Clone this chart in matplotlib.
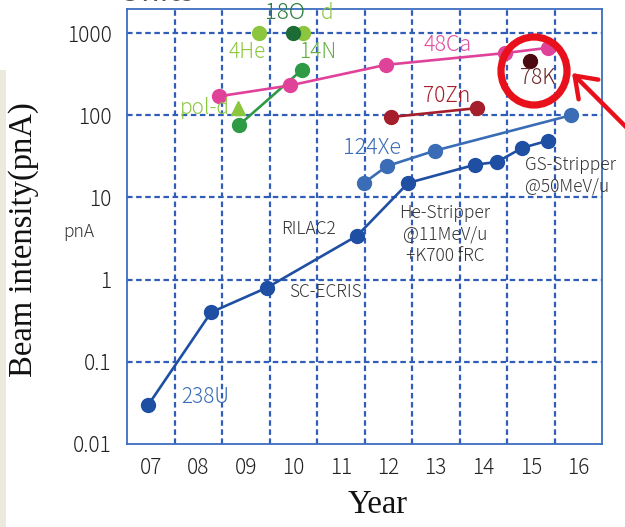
import matplotlib
matplotlib.use("Agg")
import matplotlib.pyplot as plt
from matplotlib.patches import Ellipse, Rectangle
from matplotlib.ticker import FixedLocator, NullLocator

# ---- data -------------------------------------------------------------
years = ["07", "08", "09", "10", "11", "12", "13", "14", "15", "16"]
year_pos = [7, 8, 9, 10, 11, 12, 13, 14, 15, 16]
y_ticks = [0.01, 0.1, 1, 10, 100, 1000]
y_tick_labels = ["0.01", "0.1", "1", "10", "100", "1000"]

u238_x = [6.95, 8.27, 9.45, 11.34, 12.42, 13.83, 14.29, 14.82, 15.36]
u238_y = [0.03, 0.4, 0.8, 3.4, 15, 25, 27, 40, 49]

xe124_x = [11.49, 11.97, 12.98, 15.85]
xe124_y = [15, 24, 37, 100]

ca48_x = [8.44, 9.93, 11.95, 14.46, 15.36]
ca48_y = [170, 230, 410, 570, 660]

n14_x = [8.86, 10.18]
n14_y = [76, 355]

pold_x = [8.84]
pold_y = [122]

he4_x = [9.28]
he4_y = [1000]

o18_x = [10.0]
o18_y = [1000]

d_x = [10.2]
d_y = [1000]

zn70_x = [12.06, 13.87]
zn70_y = [95, 122]

k78_x = [14.98]
k78_y = [456]

# ---- style ------------------------------------------------------------
SANS = ["Noto Sans CJK JP", "DejaVu Sans"]
SERIF = ["Liberation Serif", "DejaVu Serif"]
GRID_BLUE = "#2F5DB8"
C_U = "#1E4FA3"
C_XE = "#3A6DB5"
C_CA = "#E0429A"
C_N = "#2E9A45"
C_LG = "#8CC63F"
C_O = "#1D6B35"
C_ZN = "#A51E2B"
C_K = "#4A0A10"

W, H = 625, 527
fig = plt.figure(figsize=(W / 100, H / 100), dpi=100)
fig.patch.set_facecolor("white")

# beige strip on the far left
fig.patches.append(Rectangle((0, 0), 6 / W, (H - 70) / H, transform=fig.transFigure,
                             facecolor="#ECE9DE", edgecolor="none", zorder=0))

ax = fig.add_axes([127 / W, 1 - 444 / H, (602 - 127) / W, (444 - 9) / H])
ax.set_yscale("log")
ax.set_xlim(6.5, 16.5)
ax.set_ylim(0.01, 10 ** 3.292)

# grid
for gx in [7.5, 8.5, 9.5, 10.5, 11.5, 12.5, 13.5, 14.5, 15.5]:
    ax.axvline(gx, color=GRID_BLUE, lw=1.6, ls=(0, (2.5, 1.6)), zorder=1)
for gy in [0.1, 1, 10, 100, 1000]:
    ax.axhline(gy, color=GRID_BLUE, lw=1.6, ls=(0, (2.5, 1.6)), zorder=1)

for s in ax.spines.values():
    s.set_color("#3D6CC0")
    s.set_linewidth(1.3)

ax.xaxis.set_major_locator(FixedLocator(year_pos))
ax.set_xticklabels(years, fontfamily=SANS, fontsize=15, color="#222222",
                   fontweight="light")
ax.yaxis.set_major_locator(FixedLocator(y_ticks))
ax.yaxis.set_minor_locator(NullLocator())
ax.set_yticklabels(y_tick_labels, fontfamily=SANS, fontsize=15, color="#222222",
                   fontweight="light")
ax.tick_params(axis="both", length=0)
ax.tick_params(axis="x", pad=9)
ax.tick_params(axis="y", pad=11)

MS = 10
LW = 1.9

# series
ax.plot(u238_x, u238_y, "-o", color=C_U, lw=LW, ms=MS, zorder=5)
ax.plot(xe124_x, xe124_y, "-o", color=C_XE, lw=LW, ms=MS, zorder=5)
ax.plot(pold_x, pold_y, "^", color=C_LG, ms=MS, zorder=4)
ax.plot(n14_x, n14_y, "-o", color=C_N, lw=LW, ms=MS, zorder=5)
ax.plot(ca48_x, ca48_y, "-o", color=C_CA, lw=LW, ms=MS, zorder=6)
ax.plot(he4_x, he4_y, "o", color=C_LG, ms=MS, zorder=5)
ax.plot(d_x, d_y, "o", color=C_LG, ms=MS, zorder=5)
ax.plot(o18_x, o18_y, "o", color=C_O, ms=MS, zorder=6)
ax.plot(zn70_x, zn70_y, "-o", color=C_ZN, lw=LW, ms=MS, zorder=5)
ax.plot(k78_x, k78_y, "o", color=C_K, ms=MS, zorder=5)

# labels of the beams
def lab(x, y, s, c, size=15, **kw):
    ax.text(x, y, s, color=c, fontsize=size, fontfamily=SANS, ha="center",
            va="center", zorder=7, clip_on=False, fontweight="light", **kw)

lab(9.83, 1750, "18O", "#2E7D40", 16)
lab(10.71, 1730, "d", C_LG, 15)
lab(9.04, 587, "4He", C_LG, 15)
lab(10.52, 587, "14N", "#5DAE3C", 15)
lab(8.14, 122, "pol-d", C_LG, 15)
lab(13.26, 714, "48Ca", "#E0509F", 15.5)
lab(13.22, 171, "70Zn", C_ZN, 15)
lab(15.15, 284, "78K", "#6B2525", 15)
lab(11.66, 39.9, "124Xe", C_XE, 15.5)
lab(8.14, 0.0373, "238U", C_XE, 15)
lab(10.33, 4.13, "RILAC2", "#333333", 12.5)
lab(10.67, 0.707, "SC-ECRIS", "#333333", 12.5)
lab(13.19, 3.49, "He-Stripper\n@11MeV/u\n+K700 fRC", "#333333", 12.5,
    linespacing=1.25)
ax.text(14.88, 18.5, "GS-Stripper\n@50MeV/u", color="#333333", fontsize=12.5,
        fontfamily=SANS, ha="left", va="center", linespacing=1.25, zorder=7,
        clip_on=False, fontweight="light")

# axis titles and unit note
fig.text(24 / W, 1 - 240 / H, "Beam intensity(pnA)", rotation=90, ha="center",
         va="center", fontfamily=SERIF, fontsize=23.5, color="#111111")
fig.text(378 / W, 1 - 505 / H, "Year", ha="center", va="center",
         fontfamily=SERIF, fontsize=23.5, color="#111111")
fig.text(79 / W, 1 - 232 / H, "pnA", ha="center", va="center",
         fontfamily=SANS, fontsize=12.5, color="#333333", fontweight="light")
fig.text(157 / W, 1 - 1 / H, "Units", ha="center", va="baseline",
         fontfamily=SANS, fontsize=22, color="#555555")

# highlight ring and pointer
fig.patches.append(Ellipse((534 / W, 1 - 71 / H), 66 / W, 68 / H,
                           transform=fig.transFigure, fill=False,
                           edgecolor="#E8101A", lw=5.2, zorder=10))
fig.add_artist(plt.Annotation("", xy=(572 / W, 1 - 73 / H), xycoords="figure fraction",
                              xytext=(632 / W, 1 - 133 / H), textcoords="figure fraction",
                              arrowprops=dict(arrowstyle="->,head_length=1.4,head_width=1.0",
                                              color="#E8101A", lw=3.2,
                                              shrinkA=0, shrinkB=0)))

fig.savefig("out.png", dpi=100)
